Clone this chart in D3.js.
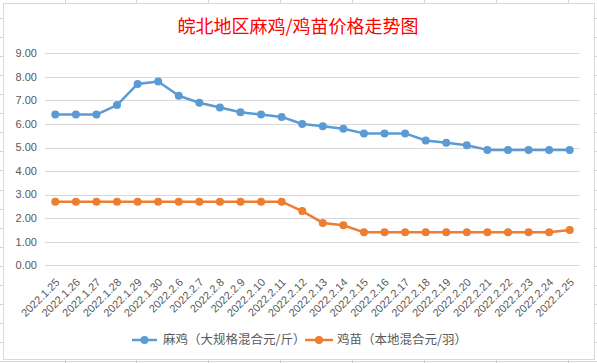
<!DOCTYPE html>
<html>
<head>
<meta charset="utf-8">
<script src="https://cdn.jsdelivr.net/npm/d3@7"></script>
<style>
    body { margin: 0; background: #fff; }
    svg { display: block; }
    text { font-family: "Liberation Sans", "Noto Sans CJK SC", sans-serif; }
</style>
</head>
<body>
<svg id="chart" width="597" height="363"></svg>
<script>
// categories (dates)
const dates = [
    "2022.1.25", "2022.1.26", "2022.1.27", "2022.1.28", "2022.1.29", "2022.1.30",
    "2022.2.6", "2022.2.7", "2022.2.8", "2022.2.9", "2022.2.10", "2022.2.11",
    "2022.2.12", "2022.2.13", "2022.2.14", "2022.2.15", "2022.2.16", "2022.2.17",
    "2022.2.18", "2022.2.19", "2022.2.20", "2022.2.21", "2022.2.22", "2022.2.23",
    "2022.2.24", "2022.2.25"
];
// 麻鸡 price (元/斤)
const majiPrices = [
    6.4, 6.4, 6.4, 6.8, 7.7, 7.8, 7.2, 6.9, 6.7, 6.5, 6.4, 6.3,
    6.0, 5.9, 5.8, 5.6, 5.6, 5.6, 5.3, 5.2, 5.1, 4.9, 4.9, 4.9, 4.9, 4.9
];
// 鸡苗 price (元/羽)
const jimiaoPrices = [
    2.7, 2.7, 2.7, 2.7, 2.7, 2.7, 2.7, 2.7, 2.7, 2.7, 2.7, 2.7,
    2.3, 1.8, 1.7, 1.4, 1.4, 1.4, 1.4, 1.4, 1.4, 1.4, 1.4, 1.4, 1.4, 1.5
];
const yTicks = [0, 1, 2, 3, 4, 5, 6, 7, 8, 9];
const seriesNames = ["麻鸡（大规格混合元/斤）", "鸡苗（本地混合元/羽）"];
const chartTitle = "皖北地区麻鸡/鸡苗价格走势图";

const svg = d3.select("#chart");
const W = 597, H = 363;

// excel cell grid behind the chart box
const bg = svg.append("g").attr("stroke", "#d4d4d8").attr("stroke-width", 1);
d3.range(-1, 20).forEach(k => {
    const gy = Math.round(18 + k * 19.06) + 0.5;
    bg.append("line").attr("x1", 0).attr("x2", W).attr("y1", gy).attr("y2", gy);
});
d3.range(0, 9).forEach(k => {
    const gx = Math.round(64.5 + k * 71.9) + 0.5;
    bg.append("line").attr("x1", gx).attr("x2", gx).attr("y1", 0).attr("y2", H);
});

// chart box
svg.append("rect")
    .attr("x", 3.5).attr("y", 3.5)
    .attr("width", 591).attr("height", 356)
    .attr("fill", "#fff")
    .attr("stroke", "#d9d9d9");

const plotLeft = 45, plotRight = 580, plotTop = 53.3, plotBottom = 265.3;

const x = d3.scalePoint().domain(dates).range([plotLeft, plotRight]).padding(0.5);
const y = d3.scaleLinear().domain([0, 9]).range([plotBottom, plotTop]);

// title
svg.append("text")
    .attr("x", 298).attr("y", 33)
    .attr("text-anchor", "middle")
    .attr("fill", "#ff0000")
    .style("font-family", "'Noto Sans CJK SC', sans-serif")
    .style("font-size", "18px")
    .text(chartTitle);

// gridlines
svg.append("g")
    .selectAll("line")
    .data(yTicks)
    .enter()
    .append("line")
    .attr("x1", plotLeft).attr("x2", plotRight)
    .attr("y1", d => Math.round(y(d)) + 0.5)
    .attr("y2", d => Math.round(y(d)) + 0.5)
    .attr("stroke", "#d9d9d9")
    .attr("stroke-width", 1);

// y labels
svg.append("g")
    .selectAll("text")
    .data(yTicks)
    .enter()
    .append("text")
    .attr("x", 37)
    .attr("y", d => y(d))
    .attr("dy", "0.35em")
    .attr("text-anchor", "end")
    .attr("fill", "#595959")
    .style("font-size", "11px")
    .text(d => d.toFixed(2));

// x labels, rotated
svg.append("g")
    .selectAll("text")
    .data(dates)
    .enter()
    .append("text")
    .attr("transform", d => `translate(${x(d) + 5},${283}) rotate(-45)`)
    .attr("text-anchor", "end")
    .attr("fill", "#595959")
    .style("font-size", "11px")
    .text(d => d);

// series
const series = [
    { name: seriesNames[0], values: majiPrices, color: "#5b9bd5" },
    { name: seriesNames[1], values: jimiaoPrices, color: "#ed7d31" }
];
const line = d3.line()
    .x((d, i) => x(dates[i]))
    .y(d => y(d));

series.forEach(s => {
    const g = svg.append("g");
    g.append("path")
        .datum(s.values)
        .attr("d", line)
        .attr("fill", "none")
        .attr("stroke", s.color)
        .attr("stroke-width", 2.5)
        .attr("stroke-linejoin", "round");
    g.selectAll("circle")
        .data(s.values)
        .enter()
        .append("circle")
        .attr("cx", (d, i) => x(dates[i]))
        .attr("cy", d => y(d))
        .attr("r", 4)
        .attr("fill", s.color);
});

// legend
const legendY = 340;
const legendItems = [
    { x0: 132, x1: 157, tx: 163 },
    { x0: 305, x1: 333, tx: 337 }
];
legendItems.forEach((it, i) => {
    const lg = svg.append("g");
    lg.append("line")
        .attr("x1", it.x0).attr("x2", it.x1)
        .attr("y1", legendY).attr("y2", legendY)
        .attr("stroke", series[i].color)
        .attr("stroke-width", 2.5);
    lg.append("circle")
        .attr("cx", (it.x0 + it.x1) / 2).attr("cy", legendY)
        .attr("r", 4)
        .attr("fill", series[i].color);
    lg.append("text")
        .attr("x", it.tx).attr("y", legendY)
        .attr("dy", "0.35em")
        .attr("fill", "#595959")
        .style("font-family", "'Noto Sans CJK SC', sans-serif")
        .style("font-size", "12.5px")
        .text(series[i].name);
});
</script>
</body>
</html>
